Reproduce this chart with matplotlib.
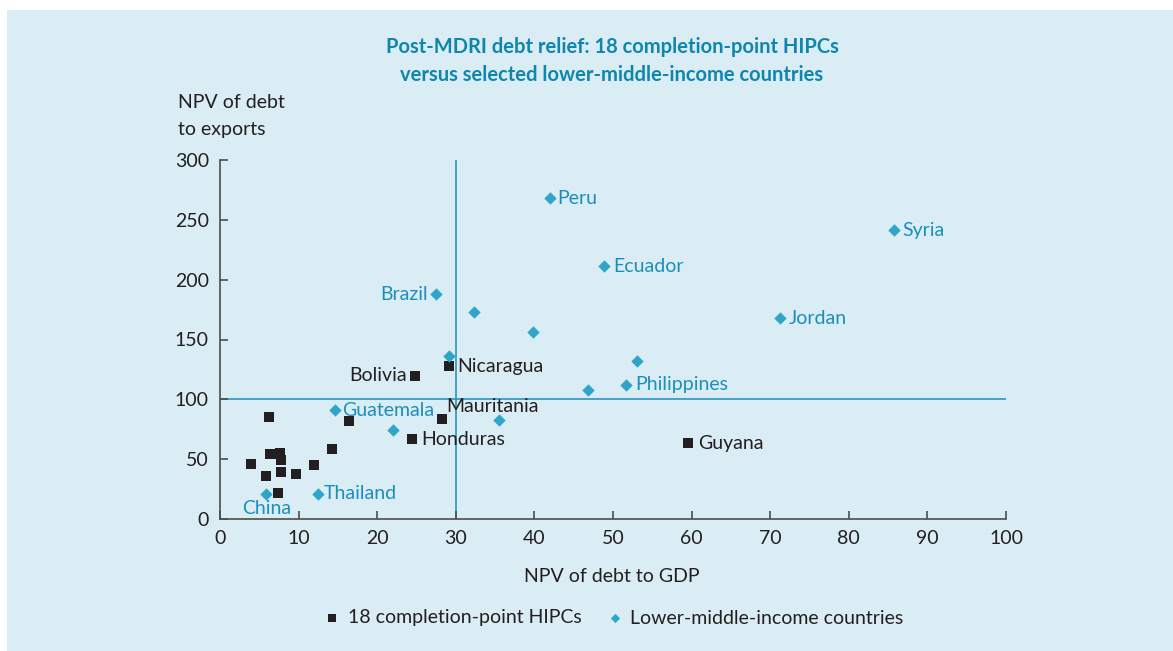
import matplotlib
matplotlib.use("Agg")
import matplotlib.pyplot as plt
from matplotlib.patches import Rectangle

plt.rcParams['font.family'] = ['Lato', 'DejaVu Sans']

# 18 completion-point HIPCs: NPV of debt to GDP, NPV of debt to exports
hipc_x = [24.8, 29.1, 28.2, 24.4, 59.5, 6.2, 16.4, 14.2, 6.4, 7.6,
          7.8, 4.0, 12.0, 7.7, 9.7, 5.9, 7.4, 7.0]
hipc_y = [119.5, 127.8, 83.3, 66.8, 63.5, 85.0, 81.6, 58.2, 54.0, 54.9,
          49.3, 45.7, 44.9, 39.0, 37.3, 35.9, 21.5, 54.3]
hipc_names = ["Bolivia", "Nicaragua", "Mauritania", "Honduras", "Guyana"]

# selected lower-middle-income countries
lmic_x = [42.0, 85.8, 48.9, 27.5, 32.3, 39.8, 71.2, 29.1, 53.1, 46.8,
          51.7, 14.6, 22.0, 35.5, 12.5, 5.9]
lmic_y = [268.2, 241.4, 211.4, 188.0, 172.9, 156.2, 167.9, 136.2, 132.0, 107.8,
          112.0, 91.0, 74.4, 82.7, 20.9, 20.9]
lmic_names = {0: "Peru", 1: "Syria", 2: "Ecuador", 3: "Brazil", 6: "Jordan",
              10: "Philippines", 11: "Guatemala", 14: "Thailand", 15: "China"}

# label offsets in pixels (dx, dy, ha)
hipc_offsets = [(-8, 0, "right"), (9, 0, "left"), (5, 13, "left"),
                (9, 0, "left"), (10, 0, "left")]
lmic_offsets = {0: (7, 0, "left"), 1: (8, 0, "left"), 2: (9, 0, "left"),
                3: (-8, 0, "right"), 6: (9, 0, "left"), 10: (9, 0, "left"),
                11: (7, 0, "left"), 14: (6, 0, "left"), 15: (0, -15, "center")}

ref_x = 30
ref_y = 100

BG = "#daecf4"
TEAL = "#1b8fbb"
DIAMOND = "#2fa6c9"
DARK = "#231f20"
FS = 14

fig = plt.figure(figsize=(11.73, 6.51), dpi=100)
fig.patch.set_facecolor("white")
fig.patches.append(Rectangle((7 / 1173, 0), 1, 1 - 10 / 651, transform=fig.transFigure,
                             facecolor=BG, edgecolor="none", zorder=-10))

ax = fig.add_axes([220 / 1173, 1 - 519 / 651, 786 / 1173, 359 / 651])
ax.set_facecolor("none")
ax.set_xlim(0, 100)
ax.set_ylim(0, 300)
ax.set_xticks(range(0, 101, 10))
ax.set_yticks(range(0, 301, 50))
for s in ["top", "right"]:
    ax.spines[s].set_visible(False)
for s in ["left", "bottom"]:
    ax.spines[s].set_color("#4d4d4d")
    ax.spines[s].set_linewidth(1.2)
ax.tick_params(direction="in", length=6, width=1.2, color="#4d4d4d",
               labelsize=FS, labelcolor=DARK, pad=8)

ax.axvline(ref_x, color=TEAL, lw=1.1, zorder=1)
ax.axhline(ref_y, color=TEAL, lw=1.1, zorder=1)

ax.scatter(hipc_x, hipc_y, marker="s", s=50, color=DARK, lw=0, zorder=3,
           label="18 completion-point HIPCs")
ax.scatter(lmic_x, lmic_y, marker="D", s=40, color=DIAMOND, lw=0, zorder=3,
           label="Lower-middle-income countries")

for i, name in enumerate(hipc_names):
    dx, dy, ha = hipc_offsets[i]
    ax.annotate(name, (hipc_x[i], hipc_y[i]), xytext=(dx * 0.72, dy * 0.72),
                textcoords="offset points", ha=ha, va="center",
                fontsize=FS, color=DARK)
for i, name in lmic_names.items():
    dx, dy, ha = lmic_offsets[i]
    ax.annotate(name, (lmic_x[i], lmic_y[i]), xytext=(dx * 0.72, dy * 0.72),
                textcoords="offset points", ha=ha, va="center",
                fontsize=FS, color=TEAL)

fig.text(612 / 1173, 1 - 61 / 651,
         "Post-MDRI debt relief: 18 completion-point HIPCs\nversus selected lower-middle-income countries",
         ha="center", va="center", fontsize=14.5, fontweight="bold", color="#0e86ad",
         linespacing=1.55)
fig.text(178 / 1173, 1 - 116 / 651, "NPV of debt\nto exports", ha="left", va="center",
         fontsize=FS, color=DARK, linespacing=1.65)
fig.text(612 / 1173, 1 - 577 / 651, "NPV of debt to GDP", ha="center", va="center",
         fontsize=FS, color=DARK)

leg = fig.legend(loc="center", bbox_to_anchor=(612 / 1173, 1 - 618 / 651), ncol=2,
                 frameon=False, fontsize=FS, handletextpad=0.2, columnspacing=1.1,
                 markerscale=0.75, handlelength=1.2)
for t in leg.get_texts():
    t.set_color(DARK)

fig.savefig("out.png", dpi=100, facecolor="white")
